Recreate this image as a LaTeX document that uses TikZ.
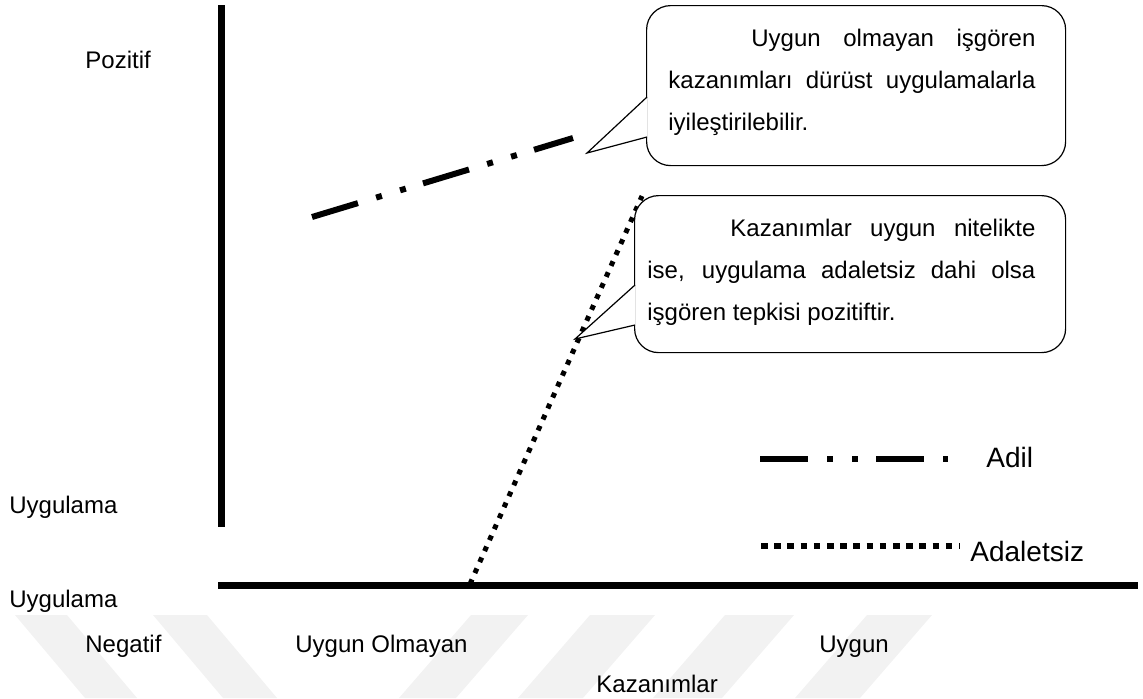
\documentclass[tikz,border=0pt]{standalone}
\usepackage{fontspec}
\setmainfont{Liberation Sans}
\begin{document}
\begin{tikzpicture}[x=0.5pt,y=-0.5pt,
  lbl/.style={inner sep=0pt, anchor=base west, font=\fontsize{12}{14}\selectfont},
  leg/.style={inner sep=0pt, anchor=base west, font=\fontsize{14}{17}\selectfont},
  axisline/.style={line width=3.5pt},
  fairline/.style={line width=3pt, dash pattern=on 24pt off 9.5pt on 3pt off 9.5pt on 3pt off 9pt},
  unfairline/.style={line width=2.5pt, dash pattern=on 2.5pt off 3.5pt},
  legdots/.style={line width=2.8pt, dash pattern=on 3.3pt off 3.3pt},
  callbox/.style={draw, line width=0.6pt, fill=white, rounded corners=12pt, inner sep=0pt, anchor=north west},
  ptr/.style={draw, line width=0.6pt, fill=white},
  boxtext/.style={inner sep=0pt, anchor=base west},
  wm/.style={fill=black!5}
]
\useasboundingbox (0,0) rectangle (1143,698);

% faint watermark stripes
\fill[wm] (15,615) -- (67,615) -- (137,698) -- (85,698) -- cycle;
\fill[wm] (153,615) -- (207,615) -- (277,698) -- (223,698) -- cycle;
\fill[wm] (471,615) -- (528,615) -- (456,698) -- (399,698) -- cycle;
\fill[wm] (590,615) -- (655,615) -- (583,698) -- (518,698) -- cycle;
\fill[wm] (725,615) -- (794,615) -- (722,698) -- (653,698) -- cycle;
\fill[wm] (867,615) -- (932,615) -- (860,698) -- (795,698) -- cycle;

% axes
\coordinate (vtop) at (221,5);
\coordinate (vbot) at (221,527);
\coordinate (hleft) at (218,585);
\coordinate (hright) at (1138,585);
\draw[axisline] (vtop) -- (vbot);
\draw[axisline] (hleft) -- (hright);

% data lines
\coordinate (f1) at (312,217);
\coordinate (f2) at (573,138);
\draw[fairline] (f1) -- (f2);
\coordinate (u1) at (470,584);
\coordinate (u2) at (642,196);
\draw[unfairline] (u1) -- (u2);

% callout 1
\node[callbox, minimum width=209.5pt, minimum height=80pt] (box1) at (646,5) {};
\coordinate (tip1) at (587,153);
\path[ptr] (647,97) -- (tip1) -- (647,137);
\node[boxtext] (t1) at (668,46) {\parbox[t]{183.5pt}{\fontsize{12}{21}\selectfont
\hspace*{41.5pt}\makebox[142pt][s]{Uygun olmayan işgören}\\
\makebox[183.5pt][s]{kazanımları dürüst uygulamalarla}\\
iyileştirilebilir.}};

% callout 2
\node[callbox, minimum width=215.5pt, minimum height=78.5pt] (box2) at (634,195) {};
\coordinate (tip2) at (575,339);
\path[ptr] (635,285) -- (tip2) -- (635,325);
\node[boxtext] (t2) at (647,236) {\parbox[t]{194pt}{\fontsize{12}{21}\selectfont
\hspace*{41.5pt}\makebox[152.5pt][s]{Kazanımlar uygun nitelikte}\\
\makebox[194pt][s]{ise, uygulama adaletsiz dahi olsa}\\
işgören tepkisi pozitiftir.}};

% legend
\coordinate (la1) at (760,459);
\coordinate (la2) at (948,459);
\draw[fairline] (la1) -- (la2);
\node[leg] (adil) at (986,467) {Adil};
\coordinate (lu1) at (761,546);
\coordinate (lu2) at (960,546);
\draw[legdots] (lu1) -- (lu2);
\node[leg] (adaletsiz) at (970,561) {Adaletsiz};

% labels
\node[lbl] (pozitif) at (85,68) {Pozitif};
\node[lbl] (uyg1) at (9,513) {Uygulama};
\node[lbl] (uyg2) at (9,607) {Uygulama};
\node[lbl] (negatif) at (85,652) {Negatif};
\node[lbl] (uolm) at (295,652) {Uygun Olmayan};
\node[lbl] (uygun) at (819,652) {Uygun};
\node[lbl] (kaz) at (596,692) {Kazanımlar};
\end{tikzpicture}
\end{document}
